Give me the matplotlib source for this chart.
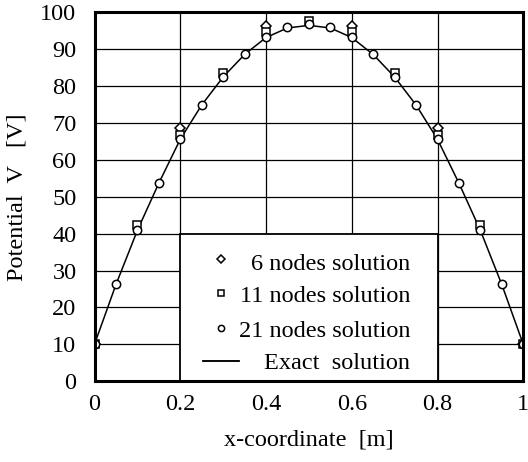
import matplotlib
matplotlib.use('Agg')
import matplotlib.pyplot as plt
from matplotlib.lines import Line2D
from matplotlib.patches import Rectangle

# datos
x6 = [0, 0.2, 0.4, 0.6, 0.8, 1.0]
v6 = [10, 68.6, 96.4, 96.4, 68.6, 10]

x11 = [0, 0.1, 0.2, 0.3, 0.4, 0.5, 0.6, 0.7, 0.8, 0.9, 1.0]
v11 = [10, 42.4, 66.7, 83.6, 94.6, 97.7, 94.6, 83.6, 66.7, 42.4, 10]

x21 = [0, 0.05, 0.1, 0.15, 0.2, 0.25, 0.3, 0.35, 0.4, 0.45, 0.5,
       0.55, 0.6, 0.65, 0.7, 0.75, 0.8, 0.85, 0.9, 0.95, 1.0]
v21 = [10, 26.3, 41.0, 53.8, 65.8, 75.0, 82.6, 88.7, 93.4, 96.0, 96.9,
       96.0, 93.4, 88.7, 82.6, 75.0, 65.8, 53.8, 41.0, 26.3, 10]

v_exacta = [10, 26.2, 40.9, 53.7, 65.6, 74.9, 82.5, 88.6, 93.2, 95.8, 96.5,
            95.8, 93.2, 88.6, 82.5, 74.9, 65.6, 53.7, 40.9, 26.2, 10]

etiquetas = ['6 nodes solution', '11 nodes solution', '21 nodes solution', 'Exact  solution']
xticks = [0, 0.2, 0.4, 0.6, 0.8, 1.0]
xtick_labels = ['0', '0.2', '0.4', '0.6', '0.8', '1']
yticks = list(range(0, 101, 10))

plt.rcParams['font.family'] = ['Liberation Serif', 'DejaVu Serif']
plt.rcParams['font.size'] = 17.5

fig = plt.figure(figsize=(5.28, 4.62), dpi=100)
ax = fig.add_axes([0.179, 0.175, 0.812, 0.798])

mk = dict(linestyle='none', markerfacecolor='white', markeredgecolor='black',
          markeredgewidth=1.1, zorder=4)

ax.plot(x21, v_exacta, color='black', linewidth=1.1, zorder=3)
ax.plot(x6, v6, marker='D', markersize=5.0, **mk)
ax.plot(x11, v11, marker='s', markersize=5.5, **mk)
ax.plot(x21, v21, marker='o', markersize=6.0, **mk)

ax.set_xlim(0, 1)
ax.set_ylim(0, 100)
ax.set_xticks(xticks)
ax.set_xticklabels(xtick_labels)
ax.set_yticks(yticks)
ax.tick_params(length=0, pad=9)
ax.tick_params(axis='y', pad=13)
ax.grid(True, color='black', linewidth=0.9)
ax.set_axisbelow(True)
for s in ax.spines.values():
    s.set_linewidth(2.2)
    s.set_zorder(6)

ax.set_xlabel('x-coordinate  [m]', labelpad=11)
ax.set_ylabel('Potential  V   [V]', labelpad=9)

# recuadro de la leyenda (tapa la rejilla)
ax.add_patch(Rectangle((0.2, 0), 0.6, 40, facecolor='white', edgecolor='black',
                       linewidth=1.3, zorder=2))

# claves de la leyenda, una por fila, y textos alineados a la derecha
manijas = [
    Line2D([], [], marker='D', markersize=4.5, **mk),
    Line2D([], [], marker='s', markersize=4.5, **mk),
    Line2D([], [], marker='o', markersize=4.5, **mk),
    Line2D([], [], color='black', linewidth=1.1),
]
y_filas = [32.4, 23.3, 13.8, 4.8]
y_textos = [30.1, 21.4, 12.0, 3.3]
for manija, etiqueta, yf, yt in zip(manijas, etiquetas, y_filas, y_textos):
    leg = ax.legend([manija], [''], loc='center',
                    bbox_to_anchor=(0.295, yf), bbox_transform=ax.transData,
                    frameon=False, handlelength=1.48, handletextpad=0,
                    borderpad=0, numpoints=1)
    leg.set_zorder(5)
    ax.add_artist(leg)
    ax.text(0.736, yt, etiqueta, ha='right', va='baseline', zorder=5)

fig.savefig('out.png', dpi=100)
